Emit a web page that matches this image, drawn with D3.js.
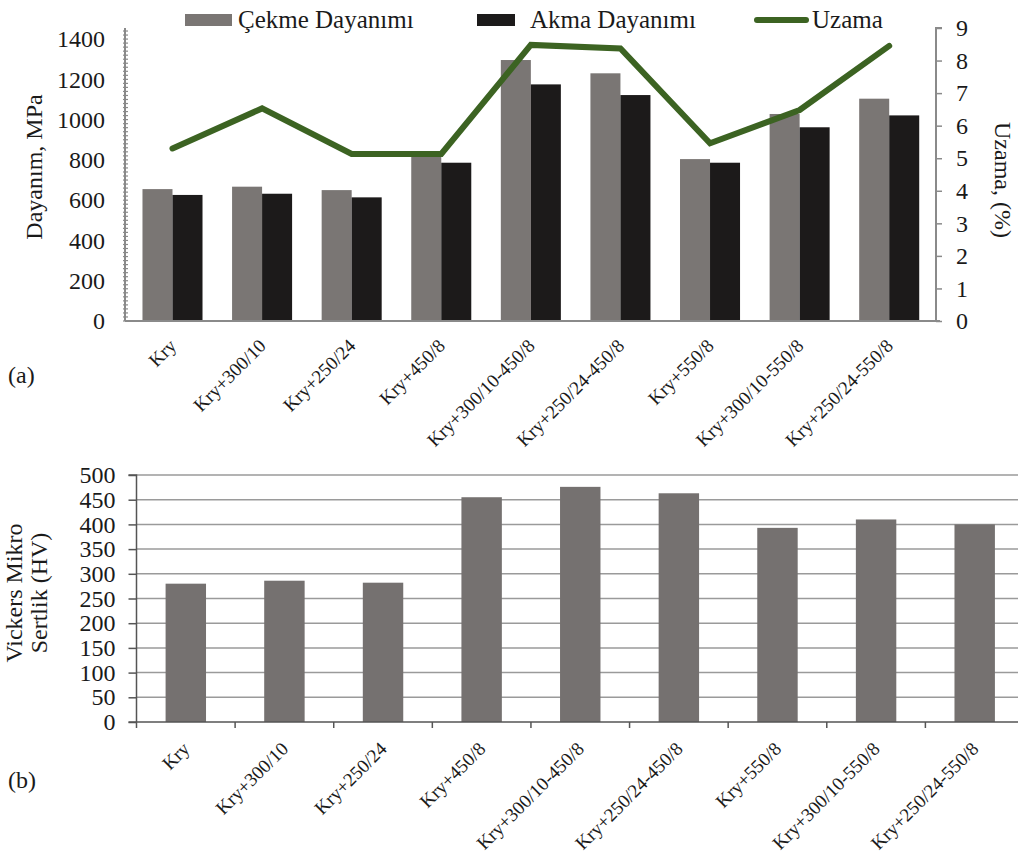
<!DOCTYPE html>
<html>
<head>
<meta charset="utf-8">
<script src="https://cdn.jsdelivr.net/npm/d3@7"></script>
<style>
  html, body { margin: 0; padding: 0; background: #fff; }
  svg { display: block; }
  text { font-family: "Liberation Serif", "Times New Roman", serif; fill: #1a1a1a; }
</style>
</head>
<body>
<svg id="chart" width="1018" height="856"></svg>
<script>
// Sample groups (heat-treatment conditions)
const categories = [
  "Kry", "Kry+300/10", "Kry+250/24", "Kry+450/8", "Kry+300/10-450/8",
  "Kry+250/24-450/8", "Kry+550/8", "Kry+300/10-550/8", "Kry+250/24-550/8"
];

// (a) Tensile / yield strength, MPa
const cekmeDayanimi = [655, 667, 650, 830, 1296, 1230, 804, 1028, 1104];
const akmaDayanimi  = [626, 632, 614, 786, 1175, 1122, 786, 962, 1021];
// (a) Elongation, %
const uzama = [5.3, 6.53, 5.13, 5.13, 8.48, 8.37, 5.46, 6.48, 8.45];

// (b) Vickers micro-hardness, HV
const sertlik = [280, 286, 282, 455, 476, 463, 393, 410, 400];

// Tick values
const leftTicksA  = [0, 200, 400, 600, 800, 1000, 1200, 1400];
const rightTicksA = [0, 1, 2, 3, 4, 5, 6, 7, 8, 9];
const ticksB      = [0, 50, 100, 150, 200, 250, 300, 350, 400, 450, 500];

const seriesNames = ["Çekme Dayanımı", "Akma Dayanımı"];
const colGray  = "#7a7674";
const colBlack = "#1c1a1a";
const colGreen = "#3c6322";
const colAxis  = "#8a8a8a";

const svg = d3.select("#chart");

/* ---------------- (a) strength + elongation ---------------- */
const A = { left: 125, right: 936, top: 28, bottom: 321 };

const x0 = d3.scaleBand().domain(categories)
  .range([127.7, 934]).paddingInner(0.33).paddingOuter(0.165);
const x1 = d3.scaleBand().domain(seriesNames).range([0, x0.bandwidth()]);
const yL = d3.scaleLinear().domain([0, 1455]).range([A.bottom, A.top]);
const yR = d3.scaleLinear().domain([0, 9]).range([A.bottom, A.top]);

const gA = svg.append("g");

// bars
const seriesData = [cekmeDayanimi, akmaDayanimi];
const seriesCol = [colGray, colBlack];
seriesNames.forEach((s, si) => {
  gA.append("g").selectAll("rect").data(categories).join("rect")
    .attr("x", c => x0(c) + x1(s))
    .attr("width", x1.bandwidth())
    .attr("y", (c, i) => yL(seriesData[si][i]))
    .attr("height", (c, i) => yL(0) - yL(seriesData[si][i]))
    .attr("fill", seriesCol[si]);
});

// elongation line
const line = d3.line()
  .x((d, i) => x0(categories[i]) + x0.bandwidth() / 2)
  .y(d => yR(d));
gA.append("path").datum(uzama)
  .attr("d", line).attr("fill", "none")
  .attr("stroke", colGreen).attr("stroke-width", 6)
  .attr("stroke-linejoin", "miter").attr("stroke-linecap", "round");

// left axis (minor ticks every 20)
const axL = gA.append("g").attr("transform", `translate(${A.left},0)`);
axL.append("line").attr("x1", 0).attr("x2", 0).attr("y1", A.top).attr("y2", A.bottom)
  .attr("stroke", colAxis).attr("stroke-width", 2);
axL.selectAll("line.minor").data(d3.range(0, 1455, 20)).join("line")
  .attr("class", "minor")
  .attr("x1", -2).attr("x2", 3)
  .attr("y1", d => yL(d)).attr("y2", d => yL(d))
  .attr("stroke", colAxis).attr("stroke-width", 1.2);
axL.selectAll("text").data(leftTicksA).join("text")
  .attr("x", -20).attr("y", d => yL(d)).attr("dy", "0.34em")
  .attr("text-anchor", "end").attr("font-size", 24).text(d => d);

// right axis
const axR = gA.append("g").attr("transform", `translate(${A.right},0)`)
  .call(d3.axisRight(yR).tickValues(rightTicksA).tickSize(6).tickPadding(14));
axR.select(".domain").attr("stroke", colAxis).attr("stroke-width", 2)
  .attr("d", `M6,${A.top}H0V${A.bottom}`);
axR.selectAll(".tick line").attr("stroke", colAxis).attr("stroke-width", 1.5);
axR.selectAll(".tick text").attr("font-size", 24)
  .attr("font-family", "Liberation Serif").attr("fill", "#1a1a1a");

// x baseline
gA.append("line").attr("x1", A.left).attr("x2", A.right + 4)
  .attr("y1", A.bottom).attr("y2", A.bottom)
  .attr("stroke", colAxis).attr("stroke-width", 2);

// category labels
gA.append("g").selectAll("text").data(categories).join("text")
  .attr("transform", c => `translate(${x0(c) + x0.bandwidth() / 2 + 5},${A.bottom + 26}) rotate(-45)`)
  .attr("text-anchor", "end").attr("font-size", 19).text(c => c);

// axis titles
gA.append("text").attr("transform", "translate(42,167) rotate(-90)")
  .attr("text-anchor", "middle").attr("font-size", 24).text("Dayanım, MPa");
gA.append("text").attr("transform", "translate(995,180) rotate(90)")
  .attr("text-anchor", "middle").attr("font-size", 24).text("Uzama, (%)");

// legend
const leg = gA.append("g");
leg.append("rect").attr("x", 185).attr("y", 14).attr("width", 47).attr("height", 12).attr("fill", colGray);
leg.append("text").attr("x", 238).attr("y", 28).attr("font-size", 25).text(seriesNames[0]);
leg.append("rect").attr("x", 477).attr("y", 14).attr("width", 38).attr("height", 12).attr("fill", colBlack);
leg.append("text").attr("x", 530).attr("y", 28).attr("font-size", 25).text(seriesNames[1]);
leg.append("line").attr("x1", 757).attr("x2", 806).attr("y1", 20).attr("y2", 20)
  .attr("stroke", colGreen).attr("stroke-width", 6).attr("stroke-linecap", "round");
leg.append("text").attr("x", 812).attr("y", 28).attr("font-size", 25).text("Uzama");

svg.append("text").attr("x", 8).attr("y", 383).attr("font-size", 24).text("(a)");

/* ---------------- (b) micro-hardness ---------------- */
const B = { left: 136.5, right: 1024, top: 475, bottom: 722 };
const xb = d3.scaleBand().domain(categories)
  .range([B.left, B.right]).paddingInner(0.59).paddingOuter(0.295);
const yb = d3.scaleLinear().domain([0, 500]).range([B.bottom, B.top]);

const gB = svg.append("g");

// grid
gB.append("g").selectAll("line").data(ticksB.filter(d => d > 0)).join("line")
  .attr("x1", B.left).attr("x2", 1018)
  .attr("y1", d => yb(d)).attr("y2", d => yb(d))
  .attr("stroke", "#9a9a9a").attr("stroke-width", 1.5);

// bars
gB.append("g").selectAll("rect").data(categories).join("rect")
  .attr("x", c => xb(c))
  .attr("width", xb.bandwidth())
  .attr("y", (c, i) => yb(sertlik[i]))
  .attr("height", (c, i) => yb(0) - yb(sertlik[i]))
  .attr("fill", "#757170");

// y axis
const ayB = gB.append("g").attr("transform", `translate(${B.left},0)`)
  .call(d3.axisLeft(yb).tickValues(ticksB).tickSize(8).tickPadding(13));
ayB.select(".domain").attr("stroke", "#555").attr("stroke-width", 1.5)
  .attr("d", `M-8,${B.top}H0V${B.bottom}`);
ayB.selectAll(".tick line").attr("stroke", "#555").attr("stroke-width", 1.5);
ayB.selectAll(".tick text").attr("font-size", 24)
  .attr("font-family", "Liberation Serif").attr("fill", "#1a1a1a");

// x axis with ticks between groups
gB.append("line").attr("x1", B.left - 8).attr("x2", 1018)
  .attr("y1", B.bottom).attr("y2", B.bottom)
  .attr("stroke", "#555").attr("stroke-width", 1.5);
gB.append("g").selectAll("line").data(categories).join("line")
  .attr("x1", c => xb(c) - xb.step() * xb.paddingInner() / 2)
  .attr("x2", c => xb(c) - xb.step() * xb.paddingInner() / 2)
  .attr("y1", B.bottom).attr("y2", B.bottom + 6)
  .attr("stroke", "#555").attr("stroke-width", 1.5);

gB.append("g").selectAll("text").data(categories).join("text")
  .attr("transform", c => `translate(${xb(c) + xb.bandwidth() / 2 + 5},${B.bottom + 28}) rotate(-45)`)
  .attr("text-anchor", "end").attr("font-size", 19).text(c => c);

// y title (two lines)
const tB = gB.append("text").attr("transform", "translate(0,593) rotate(-90)")
  .attr("text-anchor", "middle").attr("font-size", 24);
tB.append("tspan").attr("x", 0).attr("y", 22).text("Vickers Mikro");
tB.append("tspan").attr("x", 0).attr("y", 47).text("Sertlik (HV)");

svg.append("text").attr("x", 8).attr("y", 788).attr("font-size", 24).text("(b)");
</script>
</body>
</html>
